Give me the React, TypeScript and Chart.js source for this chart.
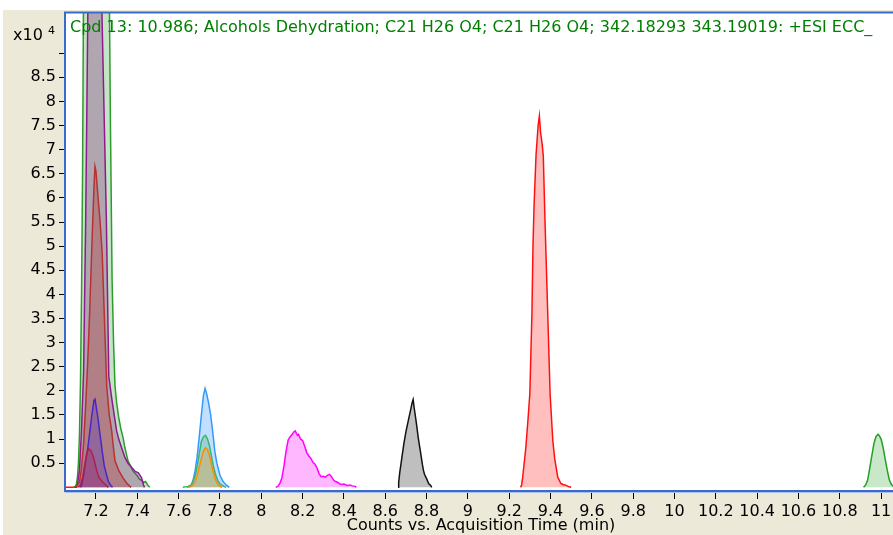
import React, { useEffect, useRef } from 'react';
import { Chart, registerables } from 'chart.js';

Chart.register(...registerables);

const FONT = '"DejaVu Sans", Verdana, sans-serif';

const titleText =
  'Cpd 13: 10.986; Alcohols Dehydration; C21 H26 O4; C21 H26 O4; 342.18293 343.19019: +ESI ECC_';
const xAxisTitle = 'Counts vs. Acquisition Time (min)';
const yScaleNote = 'x10';
const yScaleExp = '4';

// Axis ranges (minutes / counts x10^4)
const X_MIN = 7.05;
const X_MAX = 11.106;
const Y_MIN = -0.076;
const Y_MAX = 9.841;

const xTickValues = [7.2, 7.4, 7.6, 7.8, 8, 8.2, 8.4, 8.6, 8.8, 9, 9.2, 9.4, 9.6, 9.8, 10, 10.2, 10.4, 10.6, 10.8, 11];
const xTickLabels = ['7.2', '7.4', '7.6', '7.8', '8', '8.2', '8.4', '8.6', '8.8', '9', '9.2', '9.4', '9.6', '9.8', '10', '10.2', '10.4', '10.6', '10.8', '11'];
const yTickValues = [0.5, 1, 1.5, 2, 2.5, 3, 3.5, 4, 4.5, 5, 5.5, 6, 6.5, 7, 7.5, 8, 8.5, 9];
const yTickLabels = ['0.5', '1', '1.5', '2', '2.5', '3', '3.5', '4', '4.5', '5', '5.5', '6', '6.5', '7', '7.5', '8', '8.5', ''];

// ---- Series: acquisition time (min) and counts (x10^4) ----
// Cluster at ~7.2 min
const smallCrimsonT = [7.115, 7.125, 7.135, 7.145, 7.155, 7.165, 7.175, 7.185, 7.195, 7.205, 7.215, 7.23, 7.245, 7.26];
const smallCrimsonV = [0, 0.05, 0.2, 0.45, 0.7, 0.8, 0.76, 0.66, 0.5, 0.32, 0.2, 0.12, 0.06, 0];

const indigoT = [7.125, 7.13, 7.14, 7.15, 7.16, 7.17, 7.18, 7.19, 7.195, 7.2, 7.21, 7.22, 7.23, 7.24, 7.25, 7.26, 7.27, 7.28];
const indigoV = [0, 0.05, 0.25, 0.55, 0.8, 1.15, 1.5, 1.8, 1.83, 1.7, 1.42, 1.08, 0.75, 0.45, 0.28, 0.12, 0.05, 0];

const darkRedT = [7.1, 7.12, 7.13, 7.14, 7.15, 7.16, 7.17, 7.18, 7.19, 7.195, 7.2, 7.21, 7.22, 7.23, 7.24, 7.252, 7.264, 7.276, 7.285, 7.292, 7.31, 7.33, 7.35, 7.37];
const darkRedV = [0, 0.1, 0.4, 0.9, 1.7, 2.6, 3.7, 5.0, 6.2, 6.65, 6.55, 6.0, 5.5, 4.85, 3.6, 2.1, 1.5, 1.17, 0.8, 0.55, 0.35, 0.2, 0.08, 0];

const purpleT = [7.1, 7.11, 7.12, 7.13, 7.14, 7.15, 7.155, 7.162, 7.19, 7.22, 7.23, 7.24, 7.25, 7.262, 7.276, 7.29, 7.3, 7.31, 7.324, 7.34, 7.355, 7.373, 7.39, 7.405, 7.42, 7.43, 7.435];
const purpleV = [0, 0.05, 0.35, 1.2, 2.4, 5.5, 7.5, 10.5, 13, 11.5, 9.6, 7.6, 5.6, 2.3, 1.85, 1.45, 1.17, 1.0, 0.82, 0.62, 0.5, 0.41, 0.33, 0.3, 0.2, 0.05, 0];

const greenBigT = [7.09, 7.1, 7.105, 7.11, 7.115, 7.12, 7.125, 7.13, 7.135, 7.14, 7.16, 7.2, 7.24, 7.26, 7.265, 7.27, 7.278, 7.285, 7.292, 7.3, 7.31, 7.32, 7.331, 7.34, 7.355, 7.37, 7.38, 7.389, 7.4, 7.41, 7.423, 7.43, 7.44, 7.45, 7.46];
const greenBigV = [0, 0.02, 0.06, 0.2, 0.5, 1.1, 2.2, 4.0, 6.5, 10.5, 14, 15.5, 14, 11.5, 10, 7.5, 4.3, 3.0, 2.1, 1.75, 1.45, 1.22, 1.03, 0.82, 0.55, 0.42, 0.33, 0.29, 0.24, 0.17, 0.14, 0.1, 0.12, 0.05, 0];

// Cluster at ~7.73 min
const orangeT = [7.65, 7.67, 7.68, 7.69, 7.7, 7.71, 7.72, 7.73, 7.74, 7.75, 7.76, 7.77, 7.78, 7.79, 7.8, 7.81];
const orangeV = [0, 0.05, 0.12, 0.25, 0.42, 0.6, 0.75, 0.82, 0.78, 0.65, 0.45, 0.28, 0.14, 0.06, 0.02, 0];

const seaGreenT = [7.62, 7.645, 7.66, 7.67, 7.68, 7.69, 7.7, 7.71, 7.72, 7.73, 7.74, 7.75, 7.76, 7.77, 7.78, 7.79, 7.8, 7.82, 7.83];
const seaGreenV = [0, 0.02, 0.05, 0.12, 0.25, 0.45, 0.7, 0.95, 1.05, 1.08, 1.0, 0.85, 0.62, 0.4, 0.25, 0.14, 0.07, 0.02, 0];

const skyBlueT = [7.64, 7.66, 7.67, 7.68, 7.69, 7.7, 7.71, 7.72, 7.728, 7.735, 7.745, 7.755, 7.765, 7.775, 7.785, 7.8, 7.815, 7.83, 7.845];
const skyBlueV = [0, 0.03, 0.15, 0.35, 0.65, 1.05, 1.5, 1.9, 2.05, 1.95, 1.75, 1.5, 1.15, 0.75, 0.5, 0.25, 0.12, 0.05, 0];

// Peak at ~8.17 min
const magentaT = [8.07, 8.08, 8.09, 8.1, 8.11, 8.12, 8.13, 8.14, 8.15, 8.16, 8.165, 8.17, 8.175, 8.18, 8.19, 8.2, 8.21, 8.22, 8.23, 8.24, 8.25, 8.26, 8.27, 8.28, 8.29, 8.3, 8.31, 8.32, 8.33, 8.34, 8.35, 8.36, 8.37, 8.38, 8.39, 8.4, 8.41, 8.42, 8.43, 8.44, 8.455, 8.46];
const magentaV = [0, 0.02, 0.08, 0.2, 0.45, 0.75, 0.98, 1.05, 1.1, 1.16, 1.17, 1.12, 1.08, 1.1, 1.0, 0.97, 0.85, 0.72, 0.65, 0.6, 0.52, 0.48, 0.4, 0.28, 0.22, 0.23, 0.21, 0.25, 0.27, 0.22, 0.15, 0.12, 0.1, 0.07, 0.06, 0.07, 0.05, 0.04, 0.05, 0.03, 0.02, 0];

// Peak at ~8.73 min
const grayT = [8.662, 8.665, 8.67, 8.68, 8.69, 8.7, 8.71, 8.72, 8.73, 8.735, 8.74, 8.75, 8.76, 8.77, 8.78, 8.785, 8.79, 8.8, 8.81, 8.82, 8.825];
const grayV = [0, 0.1, 0.3, 0.6, 0.9, 1.15, 1.35, 1.55, 1.75, 1.82, 1.65, 1.35, 1.02, 0.75, 0.47, 0.35, 0.27, 0.18, 0.08, 0.04, 0];

// Red trace: short baseline at the start, then peak at ~9.35 min
const redT = [7.05, 7.11, 7.115, 9.255, 9.26, 9.265, 9.27, 9.28, 9.29, 9.3, 9.305, 9.31, 9.315, 9.32, 9.33, 9.34, 9.346, 9.352, 9.36, 9.365, 9.373, 9.381, 9.389, 9.398, 9.411, 9.42, 9.435, 9.45, 9.46, 9.47, 9.48, 9.49, 9.5];
const redV = [0, 0, null, 0, 0.05, 0.2, 0.4, 0.8, 1.35, 1.95, 2.8, 3.6, 5.0, 5.8, 6.9, 7.5, 7.7, 7.35, 7.1, 6.87, 5.56, 4.4, 3.23, 1.93, 0.97, 0.6, 0.21, 0.08, 0.06, 0.05, 0.03, 0.01, 0];

// Peak at ~10.98 min
const greenLateT = [10.915, 10.925, 10.935, 10.945, 10.955, 10.965, 10.975, 10.985, 10.99, 11.0, 11.01, 11.02, 11.03, 11.04, 11.05, 11.06, 11.07];
const greenLateV = [0, 0.05, 0.15, 0.4, 0.65, 0.9, 1.05, 1.1, 1.08, 1.0, 0.82, 0.58, 0.35, 0.15, 0.06, 0.02, 0];

const seriesList = [
  { t: smallCrimsonT, v: smallCrimsonV, line: '#B0204E', fill: 'rgba(176,32,78,0.28)' },
  { t: indigoT, v: indigoV, line: '#4A24C8', fill: 'rgba(70,40,200,0.28)' },
  { t: darkRedT, v: darkRedV, line: '#B83030', fill: 'rgba(178,40,40,0.30)' },
  { t: purpleT, v: purpleV, line: '#8E1A8E', fill: 'rgba(128,20,128,0.30)' },
  { t: greenBigT, v: greenBigV, line: '#2E9B2E', fill: 'rgba(60,170,60,0.30)' },
  { t: orangeT, v: orangeV, line: '#FF8C00', fill: 'rgba(255,150,20,0.30)' },
  { t: seaGreenT, v: seaGreenV, line: '#3CB371', fill: 'rgba(60,179,113,0.30)' },
  { t: skyBlueT, v: skyBlueV, line: '#3399FF', fill: 'rgba(51,153,255,0.30)' },
  { t: magentaT, v: magentaV, line: '#FF00FF', fill: 'rgba(255,0,255,0.28)' },
  { t: grayT, v: grayV, line: '#111111', fill: 'rgba(128,128,128,0.50)' },
  { t: redT, v: redV, line: '#FF1010', fill: 'rgba(255,0,0,0.25)' },
  { t: greenLateT, v: greenLateV, line: '#22A022', fill: 'rgba(40,160,40,0.25)' },
];

const decorPlugin = {
  id: 'decor',
  beforeDraw(chart: any) {
    const { ctx, chartArea: a, width, height } = chart;
    ctx.save();
    ctx.fillStyle = '#FFFFFF';
    ctx.fillRect(0, 0, width, height);
    ctx.fillStyle = '#ECE9D8';
    ctx.fillRect(3, 10, width - 3, height - 10);
    ctx.fillStyle = '#FFFFFF';
    ctx.fillRect(a.left, a.top, a.right - a.left + 20, a.bottom - a.top);
    ctx.restore();
  },
  afterDraw(chart: any) {
    const { ctx, chartArea: a, width } = chart;
    ctx.save();
    // plot frame
    ctx.strokeStyle = '#3A6BC8';
    ctx.lineWidth = 2;
    ctx.beginPath();
    ctx.moveTo(a.left, a.bottom);
    ctx.lineTo(a.left, a.top);
    ctx.lineTo(width, a.top);
    ctx.stroke();
    ctx.beginPath();
    ctx.moveTo(a.left - 1, a.bottom);
    ctx.lineTo(width, a.bottom);
    ctx.stroke();
    ctx.strokeStyle = '#A9C1EA';
    ctx.lineWidth = 1;
    ctx.beginPath();
    ctx.moveTo(a.left, a.bottom + 1.5);
    ctx.lineTo(width, a.bottom + 1.5);
    ctx.stroke();
    // title inside plot
    ctx.fillStyle = '#008000';
    ctx.font = `16px ${FONT}`;
    ctx.textAlign = 'left';
    ctx.textBaseline = 'alphabetic';
    ctx.fillText(titleText, a.left + 5, 32);
    // y scale multiplier
    ctx.fillStyle = '#000000';
    ctx.font = `16px ${FONT}`;
    ctx.fillText(yScaleNote, 13, 40);
    ctx.font = `11px ${FONT}`;
    ctx.fillText(yScaleExp, 48, 34);
    // x axis title
    ctx.font = `16px ${FONT}`;
    ctx.textAlign = 'center';
    ctx.fillText(xAxisTitle, 481, 530);
    ctx.restore();
  },
};

export default function App() {
  const canvasRef = useRef<HTMLCanvasElement | null>(null);

  useEffect(() => {
    if (!canvasRef.current) return;
    const datasets = seriesList.map((s) => ({
      data: s.t.map((t, i) => ({ x: t, y: s.v[i] })),
      borderColor: s.line,
      backgroundColor: s.fill,
      borderWidth: 1.5,
      fill: 'origin',
      pointRadius: 0,
      tension: 0,
      spanGaps: false,
    }));
    const chart = new Chart(canvasRef.current, {
      type: 'line',
      data: { datasets } as any,
      options: {
        responsive: false,
        animation: false,
        events: [],
        layout: { padding: { top: 10, right: 7, left: 0, bottom: 0 } },
        plugins: { legend: { display: false }, tooltip: { enabled: false }, title: { display: false } },
        scales: {
          x: {
            type: 'linear',
            min: X_MIN,
            max: X_MAX,
            afterBuildTicks: (s: any) => {
              s.ticks = xTickValues.map((v) => ({ value: v }));
            },
            afterFit: (s: any) => {
              s.height = 44;
            },
            ticks: {
              autoSkip: false,
              maxRotation: 0,
              minRotation: 0,
              padding: 3,
              color: '#000000',
              font: { family: FONT, size: 16 },
              callback: (_v: any, i: number) => xTickLabels[i],
            },
            grid: { drawOnChartArea: false, drawTicks: true, tickLength: 8, color: '#000000', lineWidth: 1 },
            border: { display: false },
          },
          y: {
            type: 'linear',
            min: Y_MIN,
            max: Y_MAX,
            afterBuildTicks: (s: any) => {
              s.ticks = yTickValues.map((v) => ({ value: v }));
            },
            afterFit: (s: any) => {
              s.width = 65;
            },
            ticks: {
              autoSkip: false,
              padding: 3,
              color: '#000000',
              font: { family: FONT, size: 16 },
              callback: (_v: any, i: number) => yTickLabels[i],
            },
            grid: { drawOnChartArea: false, drawTicks: true, tickLength: 6, color: '#000000', lineWidth: 1 },
            border: { display: false },
          },
        },
      } as any,
      plugins: [decorPlugin],
    });
    return () => chart.destroy();
  }, []);

  return (
    <div
      style={{
        position: 'fixed',
        left: 0,
        top: 0,
        width: 893,
        height: 535,
        overflow: 'hidden',
        background: '#FFFFFF',
      }}
    >
      <canvas ref={canvasRef} width={910} height={535} style={{ display: 'block', width: 910, height: 535 }} />
    </div>
  );
}
